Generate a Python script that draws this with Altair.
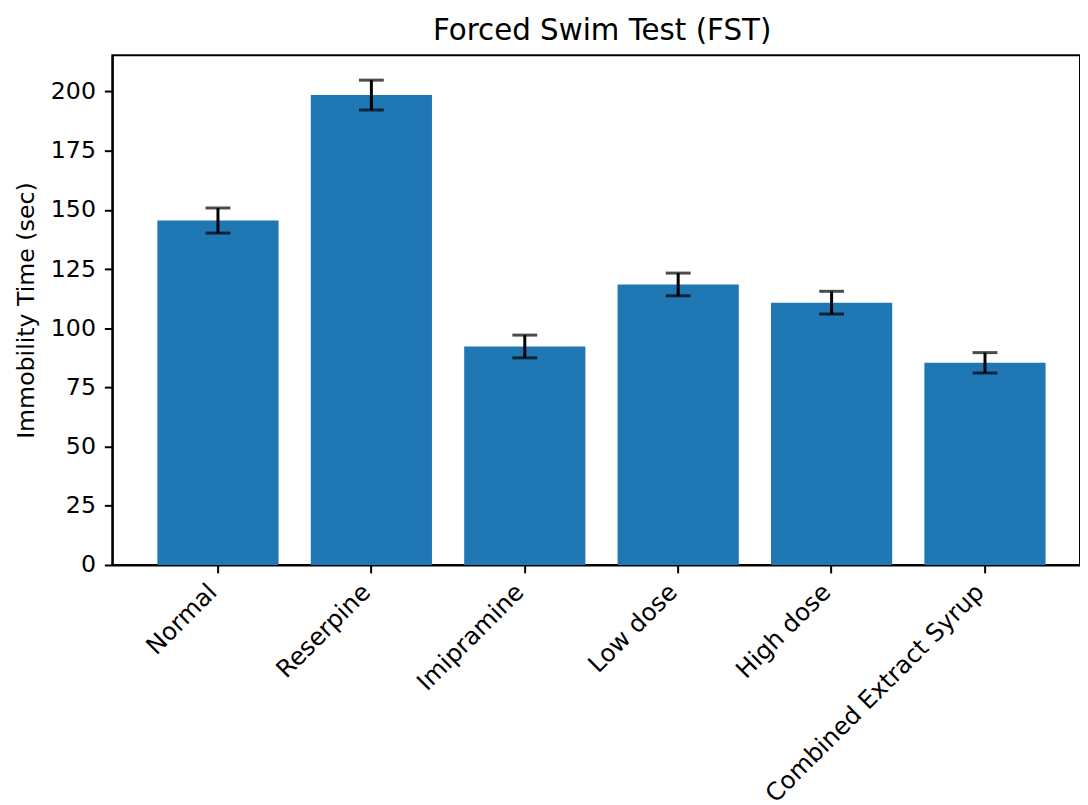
import altair as alt
import pandas as pd

categories = ["Normal", "Reserpine", "Imipramine", "Low dose", "High dose", "Combined Extract Syrup"]
means = [145.5, 198.5, 92.3, 118.5, 110.8, 85.4]
errors = [5.3, 6.3, 4.8, 4.8, 4.8, 4.3]
y_ticks = [0, 25, 50, 75, 100, 125, 150, 175, 200]

df = pd.DataFrame({"group": categories, "mean": means, "err": errors})
df["lo"] = df["mean"] - df["err"]
df["hi"] = df["mean"] + df["err"]

FONT = "DejaVu Sans"

x_enc = alt.X(
    "group:N",
    sort=categories,
    scale=alt.Scale(paddingInner=0.21, paddingOuter=0.259, align=0.567),
    axis=alt.Axis(
        title=None,
        labelAngle=-45,
        labelAlign="right",
        labelBaseline="top",
        labelOffset=-13,
        labelPadding=7,
        tickSize=8,
        tickWidth=2,
        domainWidth=2,
        labelFontSize=24.5,
        labelFont=FONT,
        labelColor="black",
        tickColor="black",
        domainColor="black",
        labelOverlap=False,
        labelLimit=600,
    ),
)

y_scale = alt.Scale(domain=[0, 215.3], nice=False, zero=True)

base = alt.Chart(df)

bars = base.mark_bar(color="#1f77b4").encode(
    x=x_enc,
    y=alt.Y(
        "mean:Q",
        scale=y_scale,
        axis=alt.Axis(
            title="Immobility Time (sec)",
            values=y_ticks,
            grid=False,
            tickSize=8,
            tickWidth=2,
            domainWidth=2,
            labelPadding=9,
            labelFontSize=23.8,
            labelFont=FONT,
            labelColor="black",
            tickColor="black",
            domainColor="black",
            titleFont=FONT,
            titleFontSize=23.8,
            titleFontWeight="normal",
            titleColor="black",
            titlePadding=12,
        ),
    ),
)

err_line = base.mark_rule(color="black", strokeWidth=3).encode(
    x=alt.X("group:N", sort=categories),
    y=alt.Y("lo:Q", scale=y_scale),
    y2="hi:Q",
)

cap_lo = base.mark_tick(color="black", size=25, thickness=3).encode(
    x=alt.X("group:N", sort=categories),
    y=alt.Y("lo:Q", scale=y_scale),
)
cap_hi = base.mark_tick(color="black", size=25, thickness=3).encode(
    x=alt.X("group:N", sort=categories),
    y=alt.Y("hi:Q", scale=y_scale),
)

chart = (
    alt.layer(bars, err_line, cap_lo, cap_hi)
    .properties(
        width=974,
        height=513,
        autosize="none",
        background="white",
        padding={"left": 105, "top": 45, "right": 0, "bottom": 239},
        title=alt.TitleParams(
            "Forced Swim Test (FST)",
            font=FONT,
            fontSize=29.5,
            fontWeight="normal",
            color="black",
            anchor="middle",
            offset=9,
            dx=6,
        ),
    )
    .configure_view(stroke="black", strokeWidth=2)
)

chart.save("out.html", embed_options={"renderer": "svg", "actions": False})
